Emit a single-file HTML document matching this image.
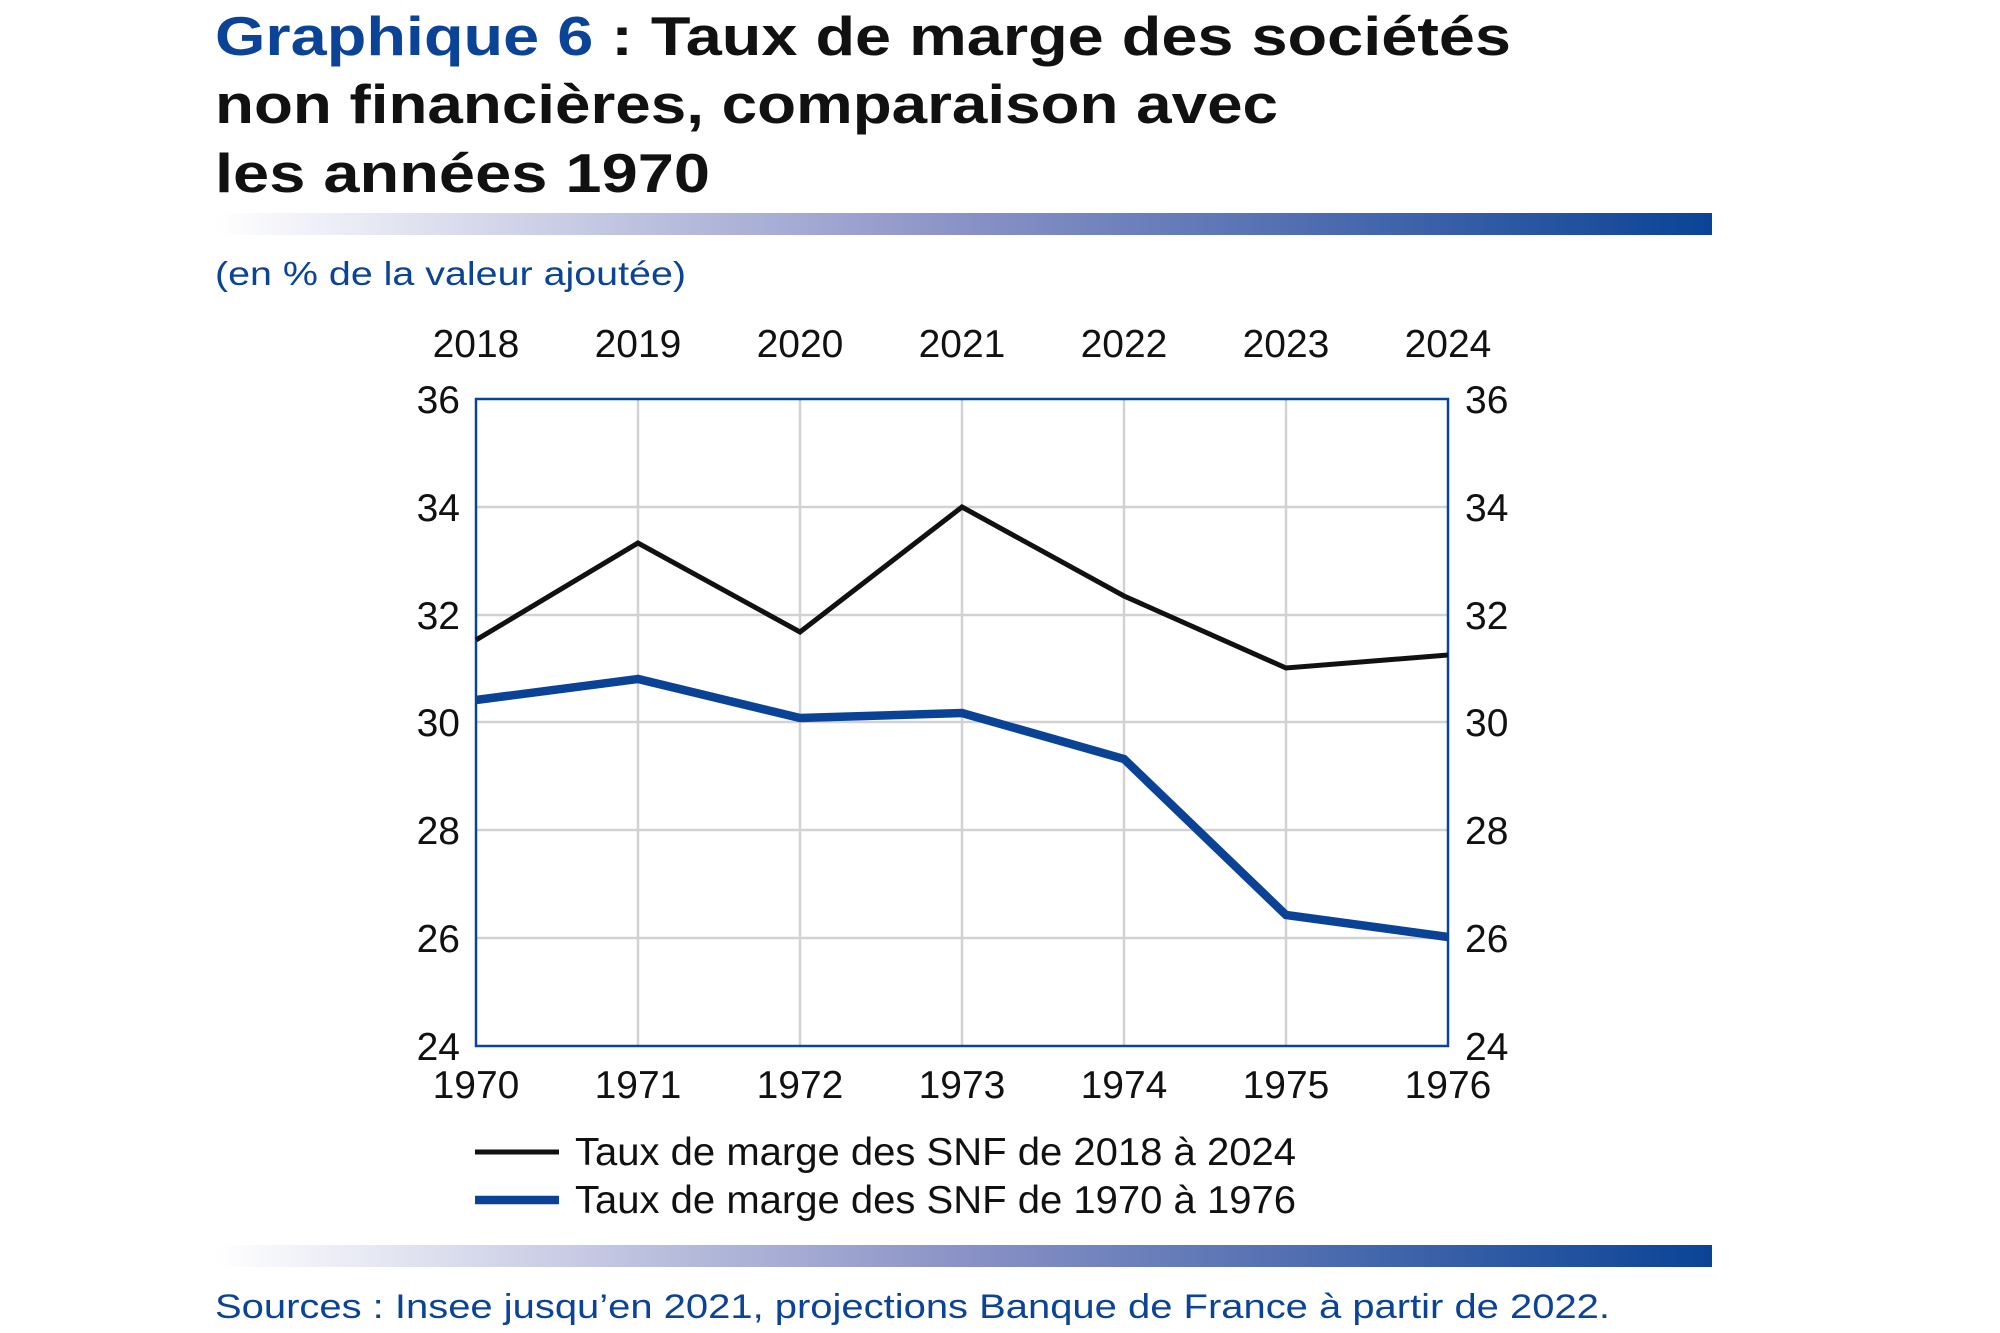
<!DOCTYPE html>
<html><head><meta charset="utf-8"><style>
html,body{margin:0;padding:0;background:#fff;}
svg{display:block;}
text{font-family:"Liberation Sans",Arial,sans-serif;}
</style></head><body>
<svg width="2000" height="1333" viewBox="0 0 2000 1333" xmlns="http://www.w3.org/2000/svg">
<defs>
<linearGradient id="g" x1="0" x2="1" y1="0" y2="0">
<stop offset="0" stop-color="#ffffff"/>
<stop offset="0.5" stop-color="#8a92c6"/>
<stop offset="1" stop-color="#0a4396"/>
</linearGradient>
</defs>
<g font-weight="bold" font-size="55" fill="#111">
<text x="215" y="55" textLength="1296" lengthAdjust="spacingAndGlyphs"><tspan fill="#0b4397">Graphique 6</tspan> : Taux de marge des sociétés</text>
<text x="215" y="123" textLength="1063" lengthAdjust="spacingAndGlyphs">non financières, comparaison avec</text>
<text x="215" y="192" textLength="495" lengthAdjust="spacingAndGlyphs">les années 1970</text>
</g>
<rect x="215" y="213" width="1497" height="22" fill="url(#g)"/>
<text x="215" y="285" font-size="33" fill="#0b4397" textLength="471" lengthAdjust="spacingAndGlyphs">(en % de la valeur ajoutée)</text>

<g stroke="#d2d2d2" stroke-width="2.5">
<line x1="476" x2="1448" y1="507" y2="507"/>
<line x1="476" x2="1448" y1="615" y2="615"/>
<line x1="476" x2="1448" y1="722" y2="722"/>
<line x1="476" x2="1448" y1="830" y2="830"/>
<line x1="476" x2="1448" y1="938" y2="938"/>
<line x1="638" x2="638" y1="399" y2="1046"/>
<line x1="800" x2="800" y1="399" y2="1046"/>
<line x1="962" x2="962" y1="399" y2="1046"/>
<line x1="1124" x2="1124" y1="399" y2="1046"/>
<line x1="1286" x2="1286" y1="399" y2="1046"/>
</g>
<rect x="476" y="399" width="972" height="647" fill="none" stroke="#0b4397" stroke-width="2.5"/>

<polyline fill="none" stroke="#111" stroke-width="5" stroke-linejoin="miter"
 points="476,640 638,543 800,632 962,507 1124,596 1286,668 1448,655"/>
<polyline fill="none" stroke="#0a4396" stroke-width="8.5" stroke-linejoin="miter"
 points="476,700 638,679 800,718 962,713 1124,759 1286,915 1448,937"/>

<g font-size="39" fill="#111">
<g text-anchor="end">
<text x="460" y="413">36</text><text x="460" y="521">34</text><text x="460" y="629">32</text>
<text x="460" y="736">30</text><text x="460" y="844">28</text><text x="460" y="952">26</text><text x="460" y="1060">24</text>
</g>
<g text-anchor="start">
<text x="1465" y="413">36</text><text x="1465" y="521">34</text><text x="1465" y="629">32</text>
<text x="1465" y="736">30</text><text x="1465" y="844">28</text><text x="1465" y="952">26</text><text x="1465" y="1060">24</text>
</g>
<g text-anchor="middle">
<text x="476" y="357">2018</text><text x="638" y="357">2019</text><text x="800" y="357">2020</text><text x="962" y="357">2021</text><text x="1124" y="357">2022</text><text x="1286" y="357">2023</text><text x="1448" y="357">2024</text>
<text x="476" y="1098">1970</text><text x="638" y="1098">1971</text><text x="800" y="1098">1972</text><text x="962" y="1098">1973</text><text x="1124" y="1098">1974</text><text x="1286" y="1098">1975</text><text x="1448" y="1098">1976</text>
</g>
<line x1="475" x2="559" y1="1152" y2="1152" stroke="#111" stroke-width="5"/>
<line x1="475" x2="559" y1="1200" y2="1200" stroke="#0a4396" stroke-width="8.5"/>
<text x="575" y="1165" textLength="721" lengthAdjust="spacingAndGlyphs">Taux de marge des SNF de 2018 à 2024</text>
<text x="575" y="1213" textLength="721" lengthAdjust="spacingAndGlyphs">Taux de marge des SNF de 1970 à 1976</text>
</g>

<rect x="215" y="1245" width="1497" height="22" fill="url(#g)"/>
<text x="215" y="1318" font-size="34" fill="#0b4397" textLength="1395" lengthAdjust="spacingAndGlyphs">Sources : Insee jusqu’en 2021, projections Banque de France à partir de 2022.</text>
</svg>
</body></html>
